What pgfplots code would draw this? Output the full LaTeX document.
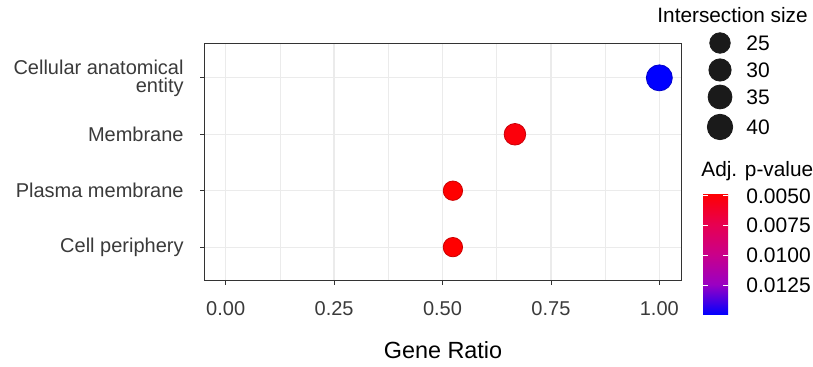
\documentclass[border=0pt]{standalone}
\usepackage{fontspec}
\setmainfont{Liberation Sans}
\usepackage{pgfplots}
\pgfplotsset{compat=1.18}
\usepackage{pgfplotstable}

\definecolor{tickgrey}{HTML}{3A3A3A}
\definecolor{gridgrey}{HTML}{EBEBEB}
\definecolor{bordergrey}{HTML}{333333}
\definecolor{legdark}{HTML}{1A1A1A}

% ratio = gene ratio, pos = category row, size = intersection size, p = adj. p-value
\pgfplotstableread{
ratio  pos size p
1.000  4   42   0.0150
0.667  3   28   0.0051
0.524  2   22   0.00475
0.524  1   22   0.00475
}\godata

\pgfplotsset{legdot/.style={only marks, mark=*, color=legdark,
  nodes near coords={#1},
  nodes near coords style={anchor=west, inner sep=0pt, xshift=13pt, font=\fontsize{10.5}{11}\selectfont, text=black}}}

\begin{document}
\begin{tikzpicture}
\useasboundingbox (0,0) rectangle (406.5pt,183.5pt);

\begin{axis}[
  at={(102pt,43pt)}, anchor=south west,
  scale only axis, width=238.5pt, height=118.5pt,
  xmin=-0.05, xmax=1.05, ymin=0.4, ymax=4.6,
  xtick={0,0.25,0.5,0.75,1},
  xticklabels={0.00,0.25,0.50,0.75,1.00},
  minor x tick num=1,
  ytick={1,2,3,4},
  yticklabels={Cell periphery,Plasma membrane,Membrane,{Cellular anatomical\\entity}},
  tick align=outside,
  tick pos=left,
  major tick length=2pt,
  minor tick length=0pt,
  every tick/.style={bordergrey, line width=0.4pt},
  grid=both,
  major grid style={gridgrey, line width=0.6pt},
  minor grid style={gridgrey, line width=0.35pt},
  axis line style={bordergrey, line width=0.5pt},
  xticklabel style={font=\fontsize{10}{11}\selectfont, text=tickgrey, inner sep=0pt, anchor=north, yshift=-8pt},
  yticklabel style={font=\fontsize{10}{9}\selectfont, text=tickgrey, inner sep=0pt, anchor=east, align=right, xshift=-8pt},
  colormap={redblue}{rgb255=(255,0,0) rgb255=(232,0,79) rgb255=(202,0,137) rgb255=(154,0,195) rgb255=(0,0,255)},
  point meta min=0.00475, point meta max=0.0150,
  colorbar,
  colorbar style={
    at={(parent axis.north east)}, anchor=north west,
    xshift=2.5pt, yshift=-74.5pt,
    scale only axis, width=12.5pt, height=61pt,
    y dir=reverse,
    scaled y ticks=false,
    ytick={0.005,0.0075,0.01,0.0125},
    yticklabels={0.0050,0.0075,0.0100,0.0125},
    ytick pos=both, yticklabel pos=right,
    tick align=inside,
    major tick length=2.5pt,
    every tick/.style={white, line width=0.5pt},
    axis line style={draw=none},
    yticklabel style={font=\fontsize{10.5}{11}\selectfont, text=black, inner sep=0pt, anchor=west, xshift=9pt},
  },
  clip=false,
]
\addplot[scatter, only marks, mark=*,
  point meta=explicit,
  visualization depends on={\thisrow{size} \as \sz},
  scatter/@pre marker code/.append style={/tikz/mark size={0.5*sqrt(94+3.75*(\sz-22))}},
] table[x=ratio, y=pos, meta=p] {\godata};
\end{axis}

% size legend (keys 25, 30, 35, 40)
\begin{axis}[
  at={(345pt,113.5pt)}, anchor=south west,
  scale only axis, width=40pt, height=55pt,
  xmin=690, xmax=770, ymin=30, ymax=140,
  y dir=reverse,
  hide axis, clip=false,
]
\addplot[legdot={25}, mark size=5.13pt] coordinates {(720,43)};
\addplot[legdot={30}, mark size=5.57pt] coordinates {(720,70)};
\addplot[legdot={35}, mark size=5.97pt] coordinates {(720,97)};
\addplot[legdot={40}, mark size=6.35pt] coordinates {(720,127)};
\end{axis}

\node[anchor=base west, inner sep=0pt, font=\fontsize{10.4}{11}\selectfont] at (328.5pt,172.2pt) {Intersection size};
\node[anchor=base west, inner sep=0pt, font=\fontsize{10.4}{11}\selectfont] at (350.5pt,95pt) {Adj. p-value};
\node[anchor=base, inner sep=0pt, font=\fontsize{11.7}{12}\selectfont, text=black] at (221.5pt,4pt) {Gene Ratio};
\end{tikzpicture}
\end{document}
